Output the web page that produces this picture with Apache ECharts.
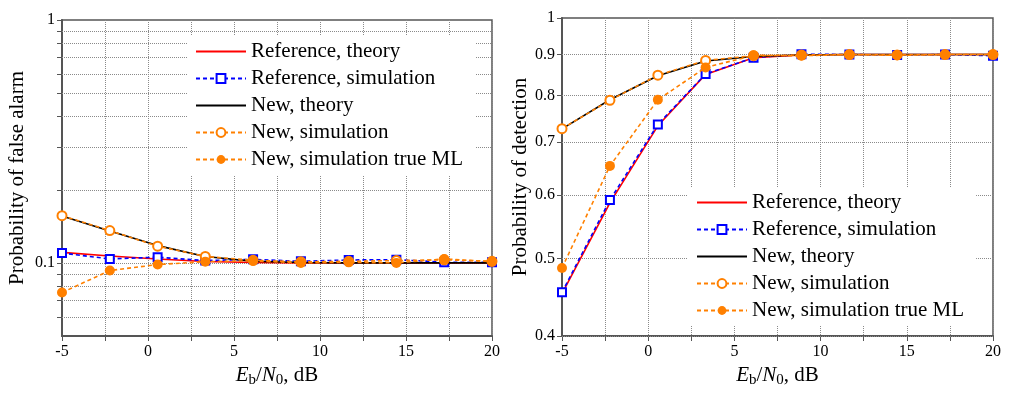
<!DOCTYPE html>
<html>
<head>
<meta charset="utf-8">
<script src="https://cdn.jsdelivr.net/npm/echarts@6/dist/echarts.min.js"></script>
<style>html,body{margin:0;padding:0;background:#fff}#c{width:1024px;height:420px}</style>
</head>
<body>
<div id="c"></div>
<script>
// ---------- data ----------
const ebn0 = [-5, -2.22, 0.56, 3.33, 6.11, 8.89, 11.67, 14.44, 17.22, 20];

const pfaRefTheory = [0.1105, 0.1068, 0.1037, 0.1013, 0.1003, 0.1, 0.1, 0.1, 0.1, 0.1];
const pfaRefSim    = [0.1098, 0.1038, 0.1055, 0.1022, 0.1034, 0.1015, 0.1028, 0.1031, 0.1007, 0.1005];
const pfaNewTheory = [0.156, 0.1354, 0.1178, 0.1062, 0.1016, 0.1003, 0.1, 0.1, 0.1, 0.1];
const pfaNewSim    = [0.1565, 0.1358, 0.1172, 0.1063, 0.1025, 0.101, 0.1015, 0.1022, 0.103, 0.1015];
const pfaNewML     = [0.0755, 0.093, 0.0984, 0.1012, 0.1019, 0.1, 0.1005, 0.1, 0.1038, 0.1012];

const pdRefTheory = [0.452, 0.587, 0.733, 0.850, 0.892, 0.899, 0.9, 0.9, 0.9, 0.9];
const pdRefSim    = [0.4537, 0.592, 0.736, 0.851, 0.892, 0.901, 0.9, 0.899, 0.9, 0.897];
const pdNewTheory = [0.7265, 0.790, 0.8466, 0.8835, 0.895, 0.899, 0.9, 0.9, 0.9, 0.9];
const pdNewSim    = [0.727, 0.789, 0.848, 0.885, 0.897, 0.899, 0.9, 0.899, 0.9, 0.9];
const pdNewML     = [0.4866, 0.653, 0.790, 0.867, 0.898, 0.897, 0.9, 0.898, 0.9, 0.9];

const seriesNames = ['Reference, theory', 'Reference, simulation', 'New, theory', 'New, simulation', 'New, simulation true ML'];

// y tick / grid values (log axes) and labelled values
const pfaTicks  = [0.06, 0.07, 0.08, 0.09, 0.1, 0.2, 0.3, 0.4, 0.5, 0.6, 0.7, 0.8, 0.9, 1];
const pfaLabelVals = [0.1, 1];
const pdTicks   = [0.4, 0.5, 0.6, 0.7, 0.8, 0.9, 1];
const pdLabelVals = [0.4, 0.5, 0.6, 0.7, 0.8, 0.9, 1];

// ---------- styling ----------
const FONT = 'Liberation Serif';
const AX = '#555';
const GRIDC = '#8a8a8a';
const RED = '#ff0000', BLUE = '#0000ff', BLACK = '#000000', ORANGE = '#ff8000';

function pairs(xs, ys) { return xs.map((x, i) => [x, ys[i]]); }

function gridMarkLines(ticks, xmin, xmax) {
  return ticks.filter(v => v < 1).map(v => [
    { coord: [xmin, v] }, { coord: [xmax, v] }
  ]);
}

function helper(idx, ticks) {
  return {
    name: 'grid' + idx, type: 'line', xAxisIndex: idx, yAxisIndex: idx, data: [],
    silent: true, z: 1,
    markLine: { silent: true, symbol: ['none', 'none'], animation: false, z: 1,
      label: { show: false },
      lineStyle: { type: 'dotted', color: GRIDC, width: 1 },
      emphasis: { disabled: true },
      data: gridMarkLines(ticks, -5, 20) }
  };
}

function dataSeries(idx, d) {
  return [
    { name: seriesNames[0], type: 'line', xAxisIndex: idx, yAxisIndex: idx, data: pairs(ebn0, d[0]),
      symbol: 'circle', showSymbol: false, lineStyle: { color: RED, width: 1.6, type: 'solid' }, itemStyle: { color: RED }, z: 3 },
    { name: seriesNames[1], type: 'line', xAxisIndex: idx, yAxisIndex: idx, data: pairs(ebn0, d[1]),
      symbol: 'emptyRect', symbolSize: 8, showSymbol: true,
      lineStyle: { color: BLUE, width: 1.6, type: [4, 3] }, itemStyle: { color: BLUE, borderColor: BLUE, borderWidth: 1.3 }, z: 4 },
    { name: seriesNames[2], type: 'line', xAxisIndex: idx, yAxisIndex: idx, data: pairs(ebn0, d[2]),
      symbol: 'circle', showSymbol: false, lineStyle: { color: BLACK, width: 1.6, type: 'solid' }, itemStyle: { color: BLACK }, z: 5 },
    { name: seriesNames[3], type: 'line', xAxisIndex: idx, yAxisIndex: idx, data: pairs(ebn0, d[3]),
      symbol: 'emptyCircle', symbolSize: 9, showSymbol: true,
      lineStyle: { color: ORANGE, width: 1.6, type: [4, 3] }, itemStyle: { color: ORANGE, borderColor: ORANGE, borderWidth: 1.3 }, z: 6 },
    { name: seriesNames[4], type: 'line', xAxisIndex: idx, yAxisIndex: idx, data: pairs(ebn0, d[4]),
      symbol: 'circle', symbolSize: 10, showSymbol: true,
      lineStyle: { color: ORANGE, width: 1.6, type: [4, 3] }, itemStyle: { color: ORANGE }, z: 7 }
  ];
}

function xAxis(idx) {
  return {
    type: 'value', gridIndex: idx, min: -5, max: 20, interval: 2.5,
    name: '{i|E}{s|b}{n|/}{i|N}{s|0}{n|, dB}', nameLocation: 'middle', nameGap: 24,
    nameTextStyle: { rich: {
      i: { fontFamily: FONT, fontSize: 21, fontStyle: 'italic', color: '#000' },
      n: { fontFamily: FONT, fontSize: 21, color: '#000' },
      s: { fontFamily: FONT, fontSize: 15, color: '#000', padding: [9, 0, 0, 0] }
    } },
    axisLine: { show: true, onZero: false, lineStyle: { color: AX, width: 2 } },
    axisTick: { show: true, inside: false, length: 5, lineStyle: { color: AX, width: 1 } },
    axisLabel: { color: '#000', fontFamily: FONT, fontSize: 16, margin: 8,
      formatter: v => (Math.abs(v % 5) < 1e-9 ? String(v) : '') },
    splitLine: { show: true, lineStyle: { type: 'dotted', color: GRIDC, width: 1 } }
  };
}

function yAxis(idx, min, max, name, gap, ticks, labelVals) {
  return {
    type: 'log', logBase: 10, gridIndex: idx, min: min, max: max,
    name: name, nameLocation: 'middle', nameGap: gap,
    nameTextStyle: { fontFamily: FONT, fontSize: 21, color: '#000' },
    axisLine: { show: true, onZero: false, lineStyle: { color: AX, width: 2 } },
    axisTick: { show: true, inside: false, length: 5, customValues: ticks, lineStyle: { color: AX, width: 1 } },
    axisLabel: { show: true, customValues: labelVals, color: '#000', fontFamily: FONT, fontSize: 16, margin: 7,
      formatter: v => String(+(+v).toFixed(2)) },
    splitLine: { show: false }, minorTick: { show: false }
  };
}

function legend(left, top) {
  return {
    data: seriesNames.map((n, i) => (i === 0 || i === 2) ? { name: n, itemStyle: { opacity: 0 } } : { name: n }),
    orient: 'vertical', left: left, top: top,
    backgroundColor: '#fff', padding: [5, 12, 5, 8], itemGap: 6,
    itemWidth: 50, itemHeight: 11, selectedMode: false,
    textStyle: { fontFamily: FONT, fontSize: 21, color: '#000', lineHeight: 20 }
  };
}

const chart = echarts.init(document.getElementById('c'), null, { renderer: 'canvas' });
chart.setOption({
  animation: false,
  backgroundColor: '#fff',
  grid: [
    { left: 62, top: 20, width: 430, height: 316, show: true, borderColor: AX, borderWidth: 1.5, backgroundColor: 'transparent', containLabel: false },
    { left: 562, top: 18, width: 431, height: 318, show: true, borderColor: AX, borderWidth: 1.5, backgroundColor: 'transparent', containLabel: false }
  ],
  xAxis: [xAxis(0), xAxis(1)],
  yAxis: [
    yAxis(0, 0.05, 1, 'Probability of false alarm', 34, pfaTicks, pfaLabelVals),
    yAxis(1, 0.4, 1, 'Probability of detection', 31, pdTicks, pdLabelVals)
  ],
  legend: [legend(187, 36), legend(688, 187)],
  series: [
    helper(0, pfaTicks),
    helper(1, pdTicks),
    ...dataSeries(0, [pfaRefTheory, pfaRefSim, pfaNewTheory, pfaNewSim, pfaNewML]),
    ...dataSeries(1, [pdRefTheory, pdRefSim, pdNewTheory, pdNewSim, pdNewML])
  ]
});
</script>
</body>
</html>
